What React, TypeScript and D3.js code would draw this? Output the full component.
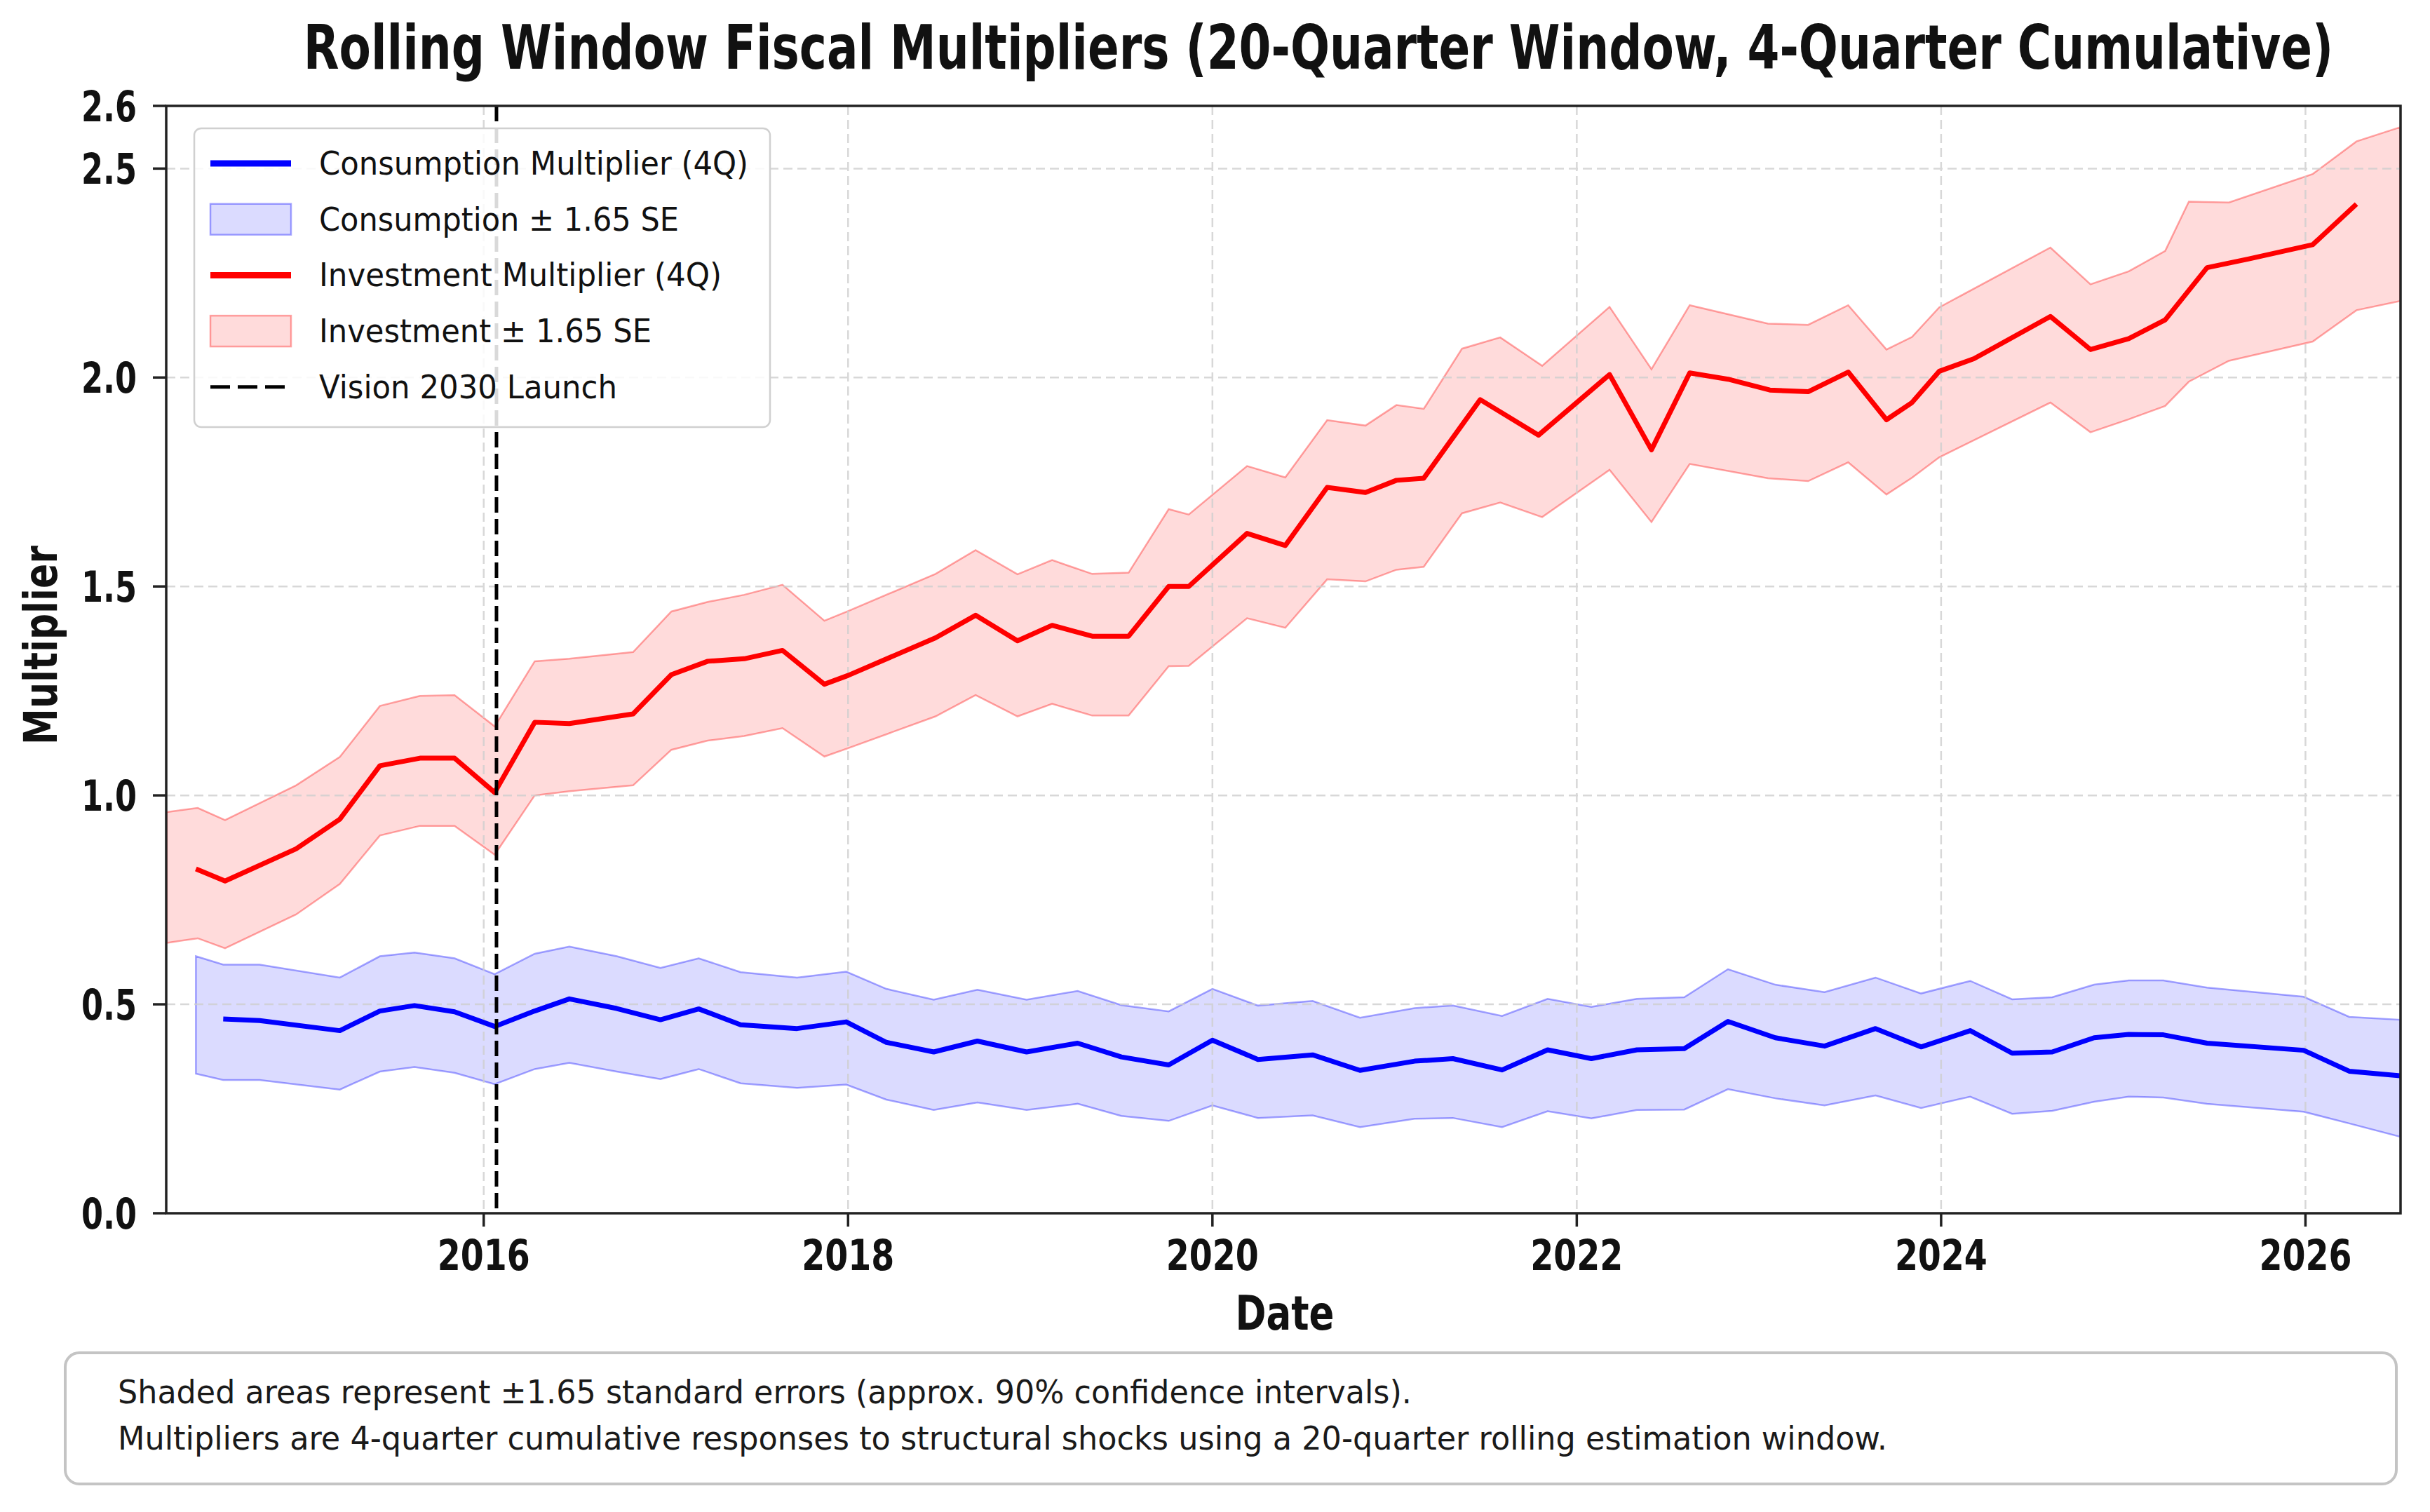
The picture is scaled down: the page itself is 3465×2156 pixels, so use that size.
import React from "react";
import * as d3 from "d3";

// ---------- data ----------
const invDates = [2014.42, 2014.58, 2014.97, 2015.21, 2015.43, 2015.65, 2015.84, 2016.06, 2016.28, 2016.47, 2016.82, 2017.03, 2017.23, 2017.43, 2017.64, 2017.87, 2018.0, 2018.48, 2018.7, 2018.93, 2019.12, 2019.34, 2019.54, 2019.76, 2019.87, 2020.19, 2020.4, 2020.63, 2020.84, 2021.01, 2021.16, 2021.47, 2021.79, 2022.18, 2022.41, 2022.62, 2022.83, 2023.06, 2023.27, 2023.49, 2023.7, 2023.84, 2023.99, 2024.18, 2024.6, 2024.82, 2025.03, 2025.23, 2025.46, 2025.69, 2026.04, 2026.28];
const invMult = [0.824, 0.795, 0.872, 0.943, 1.071, 1.089, 1.089, 1.007, 1.175, 1.172, 1.195, 1.289, 1.321, 1.327, 1.347, 1.266, 1.287, 1.377, 1.431, 1.37, 1.407, 1.381, 1.381, 1.5, 1.5, 1.627, 1.598, 1.737, 1.725, 1.754, 1.759, 1.947, 1.862, 2.007, 1.827, 2.011, 1.996, 1.97, 1.966, 2.013, 1.899, 1.94, 2.015, 2.045, 2.146, 2.067, 2.093, 2.138, 2.263, 2.284, 2.318, 2.415];

const invBandDates = [2014.26, 2014.43, 2014.58, 2014.97, 2015.21, 2015.43, 2015.65, 2015.84, 2016.06, 2016.28, 2016.47, 2016.82, 2017.03, 2017.23, 2017.43, 2017.64, 2017.87, 2018.0, 2018.48, 2018.7, 2018.93, 2019.12, 2019.34, 2019.54, 2019.76, 2019.87, 2020.19, 2020.4, 2020.63, 2020.84, 2021.01, 2021.16, 2021.37, 2021.58, 2021.81, 2022.18, 2022.41, 2022.62, 2023.05, 2023.27, 2023.49, 2023.7, 2023.84, 2023.99, 2024.6, 2024.82, 2025.03, 2025.23, 2025.36, 2025.58, 2026.04, 2026.28, 2026.52];
const invUpper = [0.96, 0.97, 0.941, 1.024, 1.092, 1.214, 1.238, 1.24, 1.165, 1.321, 1.327, 1.343, 1.44, 1.463, 1.48, 1.504, 1.418, 1.441, 1.53, 1.587, 1.529, 1.563, 1.53, 1.533, 1.685, 1.672, 1.788, 1.761, 1.898, 1.885, 1.934, 1.925, 2.069, 2.096, 2.028, 2.169, 2.02, 2.173, 2.129, 2.126, 2.173, 2.067, 2.097, 2.168, 2.311, 2.223, 2.254, 2.303, 2.421, 2.419, 2.487, 2.565, 2.599];
const invLower = [0.647, 0.658, 0.634, 0.715, 0.788, 0.904, 0.927, 0.927, 0.858, 1.0, 1.01, 1.024, 1.109, 1.131, 1.142, 1.161, 1.093, 1.113, 1.189, 1.24, 1.189, 1.219, 1.191, 1.191, 1.309, 1.31, 1.424, 1.401, 1.517, 1.512, 1.54, 1.547, 1.675, 1.701, 1.666, 1.779, 1.654, 1.793, 1.759, 1.752, 1.797, 1.72, 1.76, 1.809, 1.94, 1.869, 1.9, 1.932, 1.99, 2.04, 2.086, 2.161, 2.183];

const consDates = [2014.42, 2014.57, 2014.77, 2015.21, 2015.43, 2015.62, 2015.84, 2016.06, 2016.28, 2016.47, 2016.73, 2016.97, 2017.18, 2017.41, 2017.72, 2017.99, 2018.21, 2018.47, 2018.71, 2018.98, 2019.26, 2019.5, 2019.76, 2020.0, 2020.25, 2020.55, 2020.81, 2021.11, 2021.32, 2021.59, 2021.84, 2022.08, 2022.33, 2022.59, 2022.83, 2023.09, 2023.36, 2023.64, 2023.89, 2024.16, 2024.39, 2024.61, 2024.84, 2025.03, 2025.22, 2025.46, 2025.99, 2026.24, 2026.52];
const consMult: (number | null)[] = [null, 0.465, 0.461, 0.437, 0.484, 0.497, 0.482, 0.447, 0.484, 0.513, 0.49, 0.463, 0.489, 0.451, 0.442, 0.458, 0.409, 0.386, 0.412, 0.386, 0.407, 0.374, 0.355, 0.414, 0.368, 0.379, 0.342, 0.364, 0.37, 0.343, 0.391, 0.37, 0.391, 0.394, 0.459, 0.42, 0.4, 0.442, 0.398, 0.437, 0.383, 0.386, 0.42, 0.428, 0.427, 0.407, 0.39, 0.34, 0.329];
const consUpper = [0.615, 0.595, 0.595, 0.564, 0.615, 0.624, 0.61, 0.572, 0.621, 0.638, 0.615, 0.587, 0.61, 0.577, 0.564, 0.578, 0.537, 0.511, 0.535, 0.511, 0.532, 0.498, 0.483, 0.537, 0.497, 0.508, 0.468, 0.491, 0.497, 0.472, 0.513, 0.494, 0.513, 0.517, 0.584, 0.547, 0.529, 0.564, 0.526, 0.556, 0.512, 0.517, 0.547, 0.557, 0.557, 0.54, 0.518, 0.47, 0.463];
const consLower = [0.334, 0.319, 0.319, 0.296, 0.339, 0.35, 0.336, 0.309, 0.345, 0.36, 0.339, 0.321, 0.345, 0.311, 0.3, 0.308, 0.272, 0.247, 0.265, 0.247, 0.262, 0.233, 0.221, 0.258, 0.228, 0.234, 0.206, 0.226, 0.228, 0.206, 0.244, 0.227, 0.247, 0.248, 0.297, 0.275, 0.258, 0.282, 0.252, 0.279, 0.238, 0.245, 0.267, 0.279, 0.277, 0.262, 0.243, 0.215, 0.183];

const visionDate = 2016.07;
const xDomain = [2014.257, 2026.522];
const yDomain = [0, 2.65];
const xTickValues = [2016, 2018, 2020, 2022, 2024, 2026];
const yTickValues = [0, 0.5, 1.0, 1.5, 2.0, 2.5, 2.65];

const titleText = "Rolling Window Fiscal Multipliers (20-Quarter Window, 4-Quarter Cumulative)";
const xLabel = "Date";
const yLabel = "Multiplier";
const legendLabels = [
  "Consumption Multiplier (4Q)",
  "Consumption \u00b1 1.65 SE",
  "Investment Multiplier (4Q)",
  "Investment \u00b1 1.65 SE",
  "Vision 2030 Launch",
];
const legendWidths = [612, 513, 574, 474, 425];
const noteLines = [
  "Shaded areas represent \u00b11.65 standard errors (approx. 90% confidence intervals).",
  "Multipliers are 4-quarter cumulative responses to structural shocks using a 20-quarter rolling estimation window.",
];
const noteWidths = [1845, 2523];

// ---------- layout ----------
const W = 3465;
const H = 2156;
const P = { left: 237, right: 3423, top: 151, bottom: 1730 };
const FONT = "'DejaVu Sans', 'Liberation Sans', sans-serif";
const BLUE = "#0000ff";
const RED = "#ff0000";

export default function App() {
  const x = d3.scaleLinear().domain(xDomain).range([P.left, P.right]);
  const y = d3.scaleLinear().domain(yDomain).range([P.bottom, P.top]);

  const invLine = d3
    .line<number>()
    .x((_, i) => x(invDates[i]))
    .y((d) => y(d))(invMult) as string;

  const consLine = d3
    .line<number | null>()
    .defined((d) => d !== null)
    .x((_, i) => x(consDates[i]))
    .y((d) => y(d as number))(consMult) as string;

  const invArea = d3
    .area<number>()
    .x((d) => x(d))
    .y0((_, i) => y(invLower[i]))
    .y1((_, i) => y(invUpper[i]))(invBandDates) as string;

  const consArea = d3
    .area<number>()
    .x((d) => x(d))
    .y0((_, i) => y(consLower[i]))
    .y1((_, i) => y(consUpper[i]))(consDates) as string;

  const fmtY = (v: number) => d3.format(".1f")(Math.floor(v * 10 + 1e-6) / 10);

  const gridY = yTickValues.filter((v) => v > yDomain[0] && v < yDomain[1]);

  const legendX = 277;
  const legendY = 183;
  const rowY0 = 233;
  const rowStep = 79.7;
  const handleX0 = 300;
  const handleX1 = 415;
  const textX = 455;

  return (
    <svg
      width={W}
      height={H}
      viewBox={`0 0 ${W} ${H}`}
      style={{ position: "absolute", left: 0, top: 0, background: "#fff" }}
      fontFamily={FONT}
    >
      <rect x={0} y={0} width={W} height={H} fill="#fff" />

      {/* Title (condensed horizontally like the reference) */}
      <g transform="translate(1880,98) scale(0.75,1)">
        <text x={0} y={0} textAnchor="middle" fontSize={88} fontWeight="bold" fill="#111">
          {titleText}
        </text>
      </g>

      {/* Bands */}
      <path d={consArea} fill={BLUE} fillOpacity={0.14} stroke={BLUE} strokeOpacity={0.35} strokeWidth={2.5} />
      <path d={invArea} fill={RED} fillOpacity={0.14} stroke={RED} strokeOpacity={0.35} strokeWidth={2.5} />

      {/* Grid */}
      <g stroke="#cfcfcf" strokeWidth={2.5} strokeDasharray="13 7" opacity={0.8}>
        {gridY.map((v) => (
          <line key={"gy" + v} x1={P.left} x2={P.right} y1={y(v)} y2={y(v)} />
        ))}
        {xTickValues.map((v) => (
          <line key={"gx" + v} x1={x(v)} x2={x(v)} y1={P.top} y2={P.bottom} />
        ))}
      </g>

      {/* Lines */}
      <path d={consLine} fill="none" stroke={BLUE} strokeWidth={7} strokeLinejoin="round" />
      <path d={invLine} fill="none" stroke={RED} strokeWidth={7} strokeLinejoin="round" />

      {/* Vision 2030 line */}
      <line
        x1={x(visionDate)}
        x2={x(visionDate)}
        y1={P.top}
        y2={P.bottom}
        stroke="#000"
        strokeWidth={5}
        strokeDasharray="22 9"
      />

      {/* Spines */}
      <rect
        x={P.left}
        y={P.top}
        width={P.right - P.left}
        height={P.bottom - P.top}
        fill="none"
        stroke="#222"
        strokeWidth={3.5}
      />

      {/* Y ticks */}
      {yTickValues.map((v) => (
        <g key={"yt" + v}>
          <line x1={P.left - 19} x2={P.left} y1={y(v)} y2={y(v)} stroke="#222" strokeWidth={3.5} />
          <text
            x={195}
            y={y(v)}
            dy="0.36em"
            textAnchor="end"
            fontSize={60}
            fontWeight="bold"
            fill="#111"
            textLength={79}
            lengthAdjust="spacingAndGlyphs"
          >
            {fmtY(v)}
          </text>
        </g>
      ))}

      {/* X ticks */}
      {xTickValues.map((v) => (
        <g key={"xt" + v}>
          <line x1={x(v)} x2={x(v)} y1={P.bottom} y2={P.bottom + 19} stroke="#222" strokeWidth={3.5} />
          <text
            x={x(v)}
            y={1811}
            textAnchor="middle"
            fontSize={61}
            fontWeight="bold"
            fill="#111"
            textLength={132}
            lengthAdjust="spacingAndGlyphs"
          >
            {d3.format("d")(v)}
          </text>
        </g>
      ))}

      {/* Axis labels */}
      <text
        x={1832}
        y={1896}
        textAnchor="middle"
        fontSize={67}
        fontWeight="bold"
        fill="#111"
        textLength={141}
        lengthAdjust="spacingAndGlyphs"
      >
        {xLabel}
      </text>
      <text
        transform="translate(81,920) rotate(-90)"
        textAnchor="middle"
        fontSize={66}
        fontWeight="bold"
        fill="#111"
        textLength={284}
        lengthAdjust="spacingAndGlyphs"
      >
        {yLabel}
      </text>

      {/* Legend */}
      <rect
        x={legendX}
        y={legendY}
        width={1098 - legendX}
        height={609 - legendY}
        rx={10}
        fill="#fff"
        fillOpacity={0.85}
        stroke="#d0d0d0"
        strokeWidth={2.5}
      />
      <line x1={handleX0} x2={handleX1} y1={rowY0} y2={rowY0} stroke={BLUE} strokeWidth={9} />
      <rect
        x={handleX0}
        y={rowY0 + rowStep - 22}
        width={handleX1 - handleX0}
        height={44}
        fill={BLUE}
        fillOpacity={0.14}
        stroke={BLUE}
        strokeOpacity={0.35}
        strokeWidth={2.5}
      />
      <line x1={handleX0} x2={handleX1} y1={rowY0 + 2 * rowStep} y2={rowY0 + 2 * rowStep} stroke={RED} strokeWidth={9} />
      <rect
        x={handleX0}
        y={rowY0 + 3 * rowStep - 22}
        width={handleX1 - handleX0}
        height={44}
        fill={RED}
        fillOpacity={0.14}
        stroke={RED}
        strokeOpacity={0.35}
        strokeWidth={2.5}
      />
      <line
        x1={handleX0}
        x2={handleX1 - 8}
        y1={rowY0 + 4 * rowStep}
        y2={rowY0 + 4 * rowStep}
        stroke="#000"
        strokeWidth={5}
        strokeDasharray="28 11"
      />
      {legendLabels.map((t, i) => (
        <text
          key={t}
          x={textX}
          y={rowY0 + i * rowStep + 16}
          fontSize={46}
          fill="#111"
          textLength={legendWidths[i]}
          lengthAdjust="spacingAndGlyphs"
        >
          {t}
        </text>
      ))}

      {/* Footnote box */}
      <rect x={93} y={1929} width={3417 - 93} height={2116 - 1929} rx={20} fill="#fff" stroke="#c4c4c4" strokeWidth={4} />
      {noteLines.map((t, i) => (
        <text
          key={i}
          x={168}
          y={2001 + i * 66}
          fontSize={46}
          fill="#1a1a1a"
          textLength={noteWidths[i]}
          lengthAdjust="spacingAndGlyphs"
        >
          {t}
        </text>
      ))}
    </svg>
  );
}
